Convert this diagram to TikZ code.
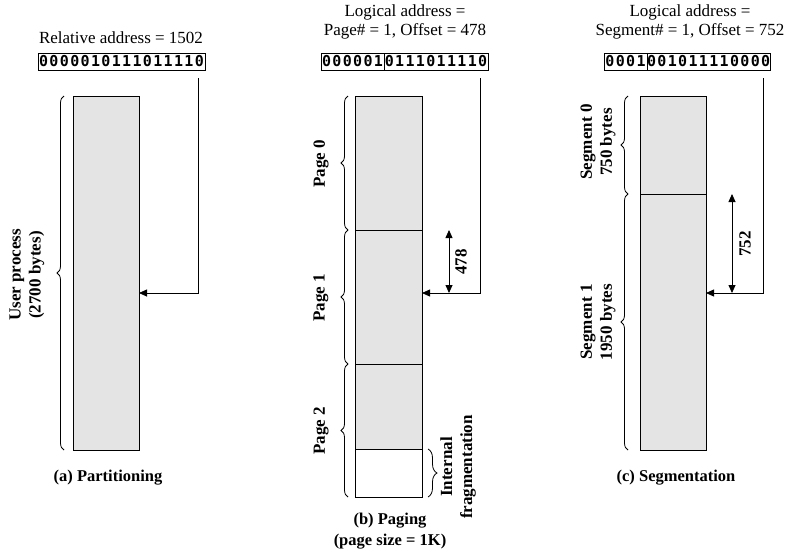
\documentclass[tikz,border=0pt]{standalone}
\usepackage{fontspec}
\setmainfont{Liberation Serif}
\newfontfamily\bitfont[LetterSpace=9]{DejaVu Sans Mono}
\usetikzlibrary{arrows.meta,positioning,decorations.pathreplacing}
\definecolor{memfill}{HTML}{E4E4E4}

\tikzset{
  mem/.style={draw,fill=memfill,line width=0.8pt,inner sep=0pt,outer sep=0pt,anchor=north west},
  bits/.style={draw,line width=0.8pt,inner sep=0pt,outer sep=0pt,minimum height=17pt,
    font=\bitfont\bfseries\fontsize{15}{15}\selectfont},
  lbl/.style={font=\bfseries\fontsize{17}{20}\selectfont,align=center,rotate=90},
  capline/.style={font=\bfseries\fontsize{16.5}{21}\selectfont,align=center},
  hdr/.style={align=center,font=\fontsize{17}{19}\selectfont},
  brc/.style={decorate,decoration={brace,amplitude=7pt},line width=0.8pt},
  ptr/.style={line width=0.8pt,-{Triangle[length=8pt,width=7pt]}},
  dim/.style={line width=0.8pt,{Triangle[length=8pt,width=7pt]}-{Triangle[length=8pt,width=7pt]}},
}

\begin{document}
\begin{tikzpicture}[x=1pt,y=-1pt]
  \useasboundingbox (0,0) rectangle (790,555);

  % (a) partitioning
  \node[hdr] (hdrA) at (121,38) {Relative address = 1502};
  \node[bits,minimum width=167pt,anchor=north west] (bitsA) at (38,53) {0000010111011110};
  \node[mem,minimum width=66pt,minimum height=354pt] (procA) at (73,96) {};
  \draw[brc] (64,450) -- (64,96);
  \node[lbl] (userA) at (27,275) {User process\\(2700 bytes)};
  \coordinate (aTop) at (198,78);
  \draw[ptr] (aTop) |- (procA.east |- 0,293);
  \node[capline] (capA) at (108,478) {(a) Partitioning};

  % (b) paging
  \node[hdr] (hdrB) at (405,22) {Logical address =\\Page\# = 1, Offset = 478};
  \node[bits,minimum width=63pt,anchor=north west] (bitsBp) at (321,53) {000001};
  \node[bits,minimum width=104pt,right=0pt of bitsBp] (bitsBo) {0111011110};
  \node[mem,minimum width=67pt,minimum height=134pt] (page0) at (355,96) {};
  \node[mem,minimum width=67pt,minimum height=134pt,below=0pt of page0] (page1) {};
  \node[mem,minimum width=67pt,minimum height=85pt,below=0pt of page1] (page2) {};
  \node[mem,fill=white,minimum width=67pt,minimum height=48pt,below=0pt of page2] (fragB) {};
  \draw[brc] (348,230) -- (348,96);
  \draw[brc] (348,364) -- (348,230);
  \draw[brc] (348,497) -- (348,364);
  \node[lbl] (lblP0) at (321,164) {Page 0};
  \node[lbl] (lblP1) at (321,298) {Page 1};
  \node[lbl] (lblP2) at (321,431) {Page 2};
  \draw[brc,decoration={amplitude=9pt}] (428,449) -- (428,497);
  \node[lbl] (lblFrag) at (458,467) {Internal\\fragmentation};
  \coordinate (bTop) at (480,78);
  \draw[ptr] (bTop) |- (page1.east |- 0,293);
  \coordinate (bDimA) at (449,230);
  \coordinate (bDimB) at (449,293);
  \draw[dim] (bDimA) -- (bDimB);
  \node[lbl] (offB) at (461,262) {478};
  \node[capline] (capB) at (390,531) {(b) Paging\\(page size = 1K)};

  % (c) segmentation
  \node[hdr] (hdrC) at (690,22) {Logical address =\\Segment\# = 1, Offset = 752};
  \node[bits,minimum width=43pt,anchor=north west] (bitsCs) at (604,53) {0001};
  \node[bits,minimum width=121pt,right=0pt of bitsCs] (bitsCo) {001011110000};
  \node[mem,minimum width=66pt,minimum height=98pt] (seg0) at (640,96) {};
  \node[mem,minimum width=66pt,minimum height=256pt,below=0pt of seg0] (seg1) {};
  \draw[brc] (628,194) -- (628,96);
  \draw[brc] (628,450) -- (628,194);
  \node[lbl] (lblS0) at (598,142) {Segment 0\\750 bytes};
  \node[lbl] (lblS1) at (598,322) {Segment 1\\1950 bytes};
  \coordinate (cTop) at (763,78);
  \draw[ptr] (cTop) |- (seg1.east |- 0,293);
  \coordinate (cDimA) at (732,194);
  \coordinate (cDimB) at (732,293);
  \draw[dim] (cDimA) -- (cDimB);
  \node[lbl] (offC) at (745,244) {752};
  \node[capline] (capC) at (676,478) {(c) Segmentation};
\end{tikzpicture}
\end{document}
